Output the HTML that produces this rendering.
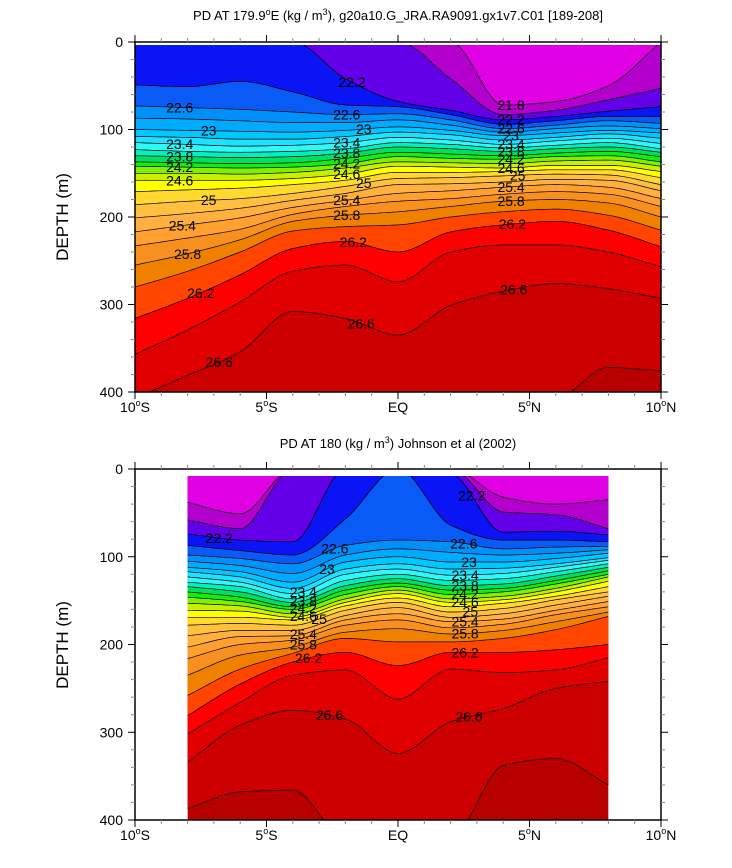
<!DOCTYPE html>
<html><head><meta charset="utf-8">
<style>
html,body{margin:0;padding:0;background:#fff;}
svg{display:block;font-family:"Liberation Sans",Arial,sans-serif;}
</style></head>
<body>
<svg id="chart" width="732" height="868" viewBox="0 0 732 868" xmlns="http://www.w3.org/2000/svg">
<text x="398" y="20" font-size="13" text-anchor="middle">PD AT 179.9<tspan font-size="9" dy="-5">o</tspan><tspan dy="5">E (kg / m</tspan><tspan font-size="9" dy="-5">3</tspan><tspan dy="5">), g20a10.G_JRA.RA9091.gx1v7.C01 [189-208]</tspan></text>
<text x="398" y="448" font-size="13" text-anchor="middle">PD AT 180 (kg / m<tspan font-size="9" dy="-5">3</tspan><tspan dy="5">) Johnson et al (2002)</tspan></text>
<text x="0" y="0" font-size="17" text-anchor="middle" transform="translate(68,217) rotate(-90)">DEPTH (m)</text>
<text x="0" y="0" font-size="17" text-anchor="middle" transform="translate(68,645) rotate(-90)">DEPTH (m)</text>
</svg>
<script>
const levels = [21.8,22.0,22.2,22.4,22.6,22.8,23.0,23.2,23.4,23.6,23.8,24.0,24.2,24.4,24.6,24.8,25.0,25.2,25.4,25.6,25.8,26.0,26.2,26.4,26.6,26.8];
const bandColors = ["#e000e4","#b400cc","#6400e8","#0a14f5","#0a5af5","#0090f8","#00aaff","#00c8ff","#20e0ff","#30f8f8","#00f0c0","#00e060","#10f010","#80f000","#c8f000","#ffff00","#ffd830","#ffc040","#ffb040","#ffa030","#f89020","#f08000","#ff4500","#ff0000","#e00000","#cc0000","#b80000"];

const topLats = [-10,-8,-6,-4,-2,0,2,4,6,8,10];
const topDepths = [
[0,0,0,0,0,0,0,72,68,50,0],
[0,0,0,0,0,0,42,83,78,66,53],
[0,0,0,0,42,68,78,89,85,79,74],
[49,51,45,57,72,74,83,94,90,85,85],
[73,75,77,80,83,82,89,99,95,90,93],
[87,88,90,92,92,89,95,103,99,96,99],
[100,101,102,103,101,97,101,107,104,101,104],
[108,109,111,111,108,103,106,112,109,105,110],
[115,117,119,118,115,109,112,117,113,110,116],
[123,125,126,125,122,115,117,121,118,115,122],
[130,131,132,131,127,120,122,125,122,120,126],
[137,138,139,138,133,126,128,130,127,125,131],
[142,143,144,143,139,131,133,134,131,130,137],
[150,150,151,149,144,137,138,139,136,135,142],
[158,158,158,156,151,142,143,144,141,141,148],
[171,169,167,163,158,149,149,148,146,146,155],
[186,182,179,173,165,156,155,153,151,152,163],
[201,196,190,181,173,163,162,160,157,158,170],
[217,209,201,189,181,173,170,166,163,166,179],
[233,224,214,197,188,182,179,174,171,174,188],
[255,242,226,205,198,194,188,182,180,184,200],
[280,262,240,216,211,209,200,194,191,198,215],
[316,293,266,236,228,240,217,209,205,215,234],
[357,329,297,262,255,274,240,232,232,240,257],
[407,381,354,308,316,335,301,285,276,282,293],
[420,420,420,420,420,420,420,420,410,372,376]
];
const topLabelLats = [-8.3,-8.3,-8.3,-8.3,-8.3,-7.2,-7.2,-8.2,-8.0,-7.5,-6.8,
  -1.75,-1.95,-1.3,-1.95,-1.95,-1.95,-1.95,-1.3,-1.95,-1.95,-1.7,-1.4,
  4.3,4.3,4.3,4.3,4.3,4.3,4.3,4.3,4.55,4.3,4.3,4.35,4.4];
const topLabelLevels = [22.6,23.4,23.8,24.2,24.6,23.0,25.0,25.4,25.8,26.2,26.6,
  22.2,22.6,23.0,23.4,23.8,24.2,24.6,25.0,25.4,25.8,26.2,26.6,
  21.8,22.2,22.6,23.0,23.4,23.8,24.2,24.6,25.0,25.4,25.8,26.2,26.6];

const bottomLats = [-8,-6,-4,-2,0,2,4,6,8];
const bottomDepths = [
[38,51,0,0,0,0,32,40,35],
[58,68,0,0,0,0,49,52,68],
[74,81,83,0,0,5,72,71,75],
[87,93,98,57,0,64,81,81,83],
[98,102,108,87,81,83,91,89,88],
[105,110,119,98,91,95,98,96,92],
[112,117,129,106,100,106,106,102,96],
[117,123,136,114,108,114,113,108,101],
[123,129,142,120,114,121,119,112,104],
[129,134,148,127,120,127,125,117,108],
[134,140,152,133,125,133,131,122,112],
[140,146,157,138,130,138,136,127,116],
[146,151,160,143,134,143,140,131,120],
[153,156,165,148,138,148,145,136,123],
[161,162,169,152,142,152,149,140,128],
[169,169,172,156,147,157,153,145,134],
[178,176,178,161,152,163,159,149,140],
[190,184,184,167,158,169,165,155,145],
[203,191,190,172,165,174,171,161,151],
[216,200,195,178,172,181,177,166,157],
[235,212,203,186,182,188,184,174,163],
[258,228,210,193,197,197,193,183,168],
[281,245,220,209,224,209,209,206,200],
[302,266,235,229,262,228,232,229,215],
[334,292,275,285,324,288,273,250,242],
[387,368,366,420,420,420,338,330,360]
];
const bottomLabelLats = [-6.8,-2.4,-2.7,-3.6,-3.6,-3.6,-3.6,-3.0,-3.6,-3.6,-3.4,-2.6,
  2.8,2.5,2.7,2.55,2.55,2.55,2.55,2.75,2.55,2.55,2.55,2.7];
const bottomLabelLevels = [22.2,22.6,23.0,23.4,23.8,24.2,24.6,25.0,25.4,25.8,26.2,26.6,
  22.2,22.6,23.0,23.4,23.8,24.2,24.6,25.0,25.4,25.8,26.2,26.6];

const xTickLats = [-10,-5,0,5,10];
const xTickLabels = ["10°S","5°S","EQ","5°N","10°N"];
const yTickDepths = [0,100,200,300,400];

const NS = "http://www.w3.org/2000/svg";
const svg = document.getElementById('chart');
function mk(tag, attrs, parent){
  const e = document.createElementNS(NS, tag);
  for (const k in attrs) e.setAttribute(k, attrs[k]);
  (parent||svg).appendChild(e);
  return e;
}
function monoInterp(xa, ya, x){
  const n = xa.length;
  if (x <= xa[0]) return ya[0];
  if (x >= xa[n-1]) return ya[n-1];
  const d = [], m = [];
  for (let i=0;i<n-1;i++) d.push((ya[i+1]-ya[i])/(xa[i+1]-xa[i]));
  m.push(d[0]);
  for (let i=1;i<n-1;i++){
    if (d[i-1]*d[i] <= 0) m.push(0);
    else m.push(3*(xa[i+1]-xa[i-1])/((2*xa[i+1]-xa[i]-xa[i-1])/d[i-1] + (xa[i+1]+xa[i]-2*xa[i-1])/d[i]));
  }
  m.push(d[n-2]);
  let i=0; while (x > xa[i+1]) i++;
  const h = xa[i+1]-xa[i], t = (x-xa[i])/h;
  const h00=2*t*t*t-3*t*t+1, h10=t*t*t-2*t*t+t, h01=-2*t*t*t+3*t*t, h11=t*t*t-t*t;
  return h00*ya[i]+h10*h*m[i]+h01*ya[i+1]+h11*h*m[i+1];
}

function drawPanel(p){
  const xs = lat => p.x0 + (lat+10)/20*(p.x1-p.x0);
  const ys = d => p.y0 + d/400*(p.y1-p.y0);
  const clipId = p.id + '-clip';
  const defs = mk('defs', {});
  const cp = mk('clipPath', {id: clipId}, defs);
  const cx0 = xs(p.lats[0]), cx1 = xs(p.lats[p.lats.length-1]);
  mk('rect', {x: cx0, y: ys(p.topDepth), width: cx1-cx0, height: p.y1-ys(p.topDepth)}, cp);
  const g = mk('g', {'clip-path': 'url(#'+clipId+')'});
  
  
  const bg = mk('rect', {x: cx0, y: p.y0, width: cx1-cx0, height: p.y1-p.y0, fill: bandColors[bandColors.length-1]}, g);
  
  
  const curves = [];
  for (let k=0;k<levels.length;k++){
    const pts = [];
    const l0 = p.lats[0], l1 = p.lats[p.lats.length-1];
    for (let s=0;s<=200;s++){
      const lat = l0 + (l1-l0)*s/200;
      pts.push([xs(lat), ys(monoInterp(p.lats, p.depths[k], lat))]);
    }
    curves.push(pts);
  }
  for (let k=levels.length-1;k>=0;k--){
    const pts = curves[k];
    let d = 'M'+pts[0][0].toFixed(1)+','+(p.y0-20);
    pts.forEach(q => d += 'L'+q[0].toFixed(1)+','+q[1].toFixed(1));
    d += 'L'+pts[pts.length-1][0].toFixed(1)+','+(p.y0-20)+'Z';
    const band = mk('path', {d: d, fill: bandColors[k], stroke: bandColors[k], 'stroke-width': 0.5}, g);
    
    
  }
  for (let k=0;k<levels.length;k++){
    const pts = curves[k];
    let d = 'M'+pts.map(q=>q[0].toFixed(1)+','+q[1].toFixed(1)).join('L');
    const line = mk('path', {d: d, fill: 'none', stroke: '#000', 'stroke-width': 0.7}, g);
    
    
  }
  for (let i=0;i<p.labLat.length;i++){
    const k = levels.findIndex(v => Math.abs(v-p.labLev[i])<1e-6);
    const dep = monoInterp(p.lats, p.depths[k], p.labLat[i]);
    const t = mk('text', {x: xs(p.labLat[i]), y: ys(dep), 'font-size': 14, 'text-anchor': 'middle', 'dominant-baseline': 'central', fill: '#000'}, g);
    
    
    t.textContent = String(p.labLev[i]);
  }
  const fr = mk('rect', {x: p.x0, y: p.y0, width: p.x1-p.x0, height: p.y1-p.y0, fill: 'none', stroke: '#000', 'stroke-width': 1.5});
  
  
  const tg = mk('g', {stroke: '#000', 'stroke-width': 1});
  
  
  for (let lat=-10; lat<=10; lat++){
    const major = lat % 5 === 0, L = major ? 7 : 4, x = xs(lat);
    mk('line', {x1:x, y1:p.y1, x2:x, y2:p.y1+L, stroke: major?'#000':'#888'}, tg);
    mk('line', {x1:x, y1:p.y0, x2:x, y2:p.y0-L, stroke: major?'#000':'#888'}, tg);
  }
  for (let d=0; d<=400; d+=20){
    const major = d % 100 === 0, L = major ? 7 : 4, y = ys(d);
    mk('line', {x1:p.x0, y1:y, x2:p.x0-L, y2:y, stroke: major?'#000':'#888'}, tg);
    mk('line', {x1:p.x1, y1:y, x2:p.x1+L, y2:y, stroke: major?'#000':'#888'}, tg);
  }
  xTickLats.forEach((lat,i) => {
    const lab = xTickLabels[i];
    const t = mk('text', {x: xs(lat), y: p.y1+20, 'font-size': 14, 'text-anchor': 'middle'});
    
    
    if (lab.indexOf('°')>0){
      const parts = lab.split('°');
      t.appendChild(document.createTextNode(parts[0]));
      const s = mk('tspan', {'font-size': 9, dy: -6}, t); s.textContent = 'o';
      const r = mk('tspan', {dy: 6}, t); r.textContent = parts[1];
    } else t.textContent = lab;
  });
  yTickDepths.forEach(d => {
    const t = mk('text', {x: p.x0-12, y: ys(d)+5, 'font-size': 14, 'text-anchor': 'end'});
    
    
    t.textContent = String(d);
  });
}

drawPanel({id:'top-panel', x0:135, x1:661, y0:42, y1:392, topDepth:3.5, lats: topLats, depths: topDepths, labLat: topLabelLats, labLev: topLabelLevels});
drawPanel({id:'bottom-panel', x0:135, x1:661, y0:469, y1:820, topDepth:8, lats: bottomLats, depths: bottomDepths, labLat: bottomLabelLats, labLev: bottomLabelLevels});
</script>
</body></html>
